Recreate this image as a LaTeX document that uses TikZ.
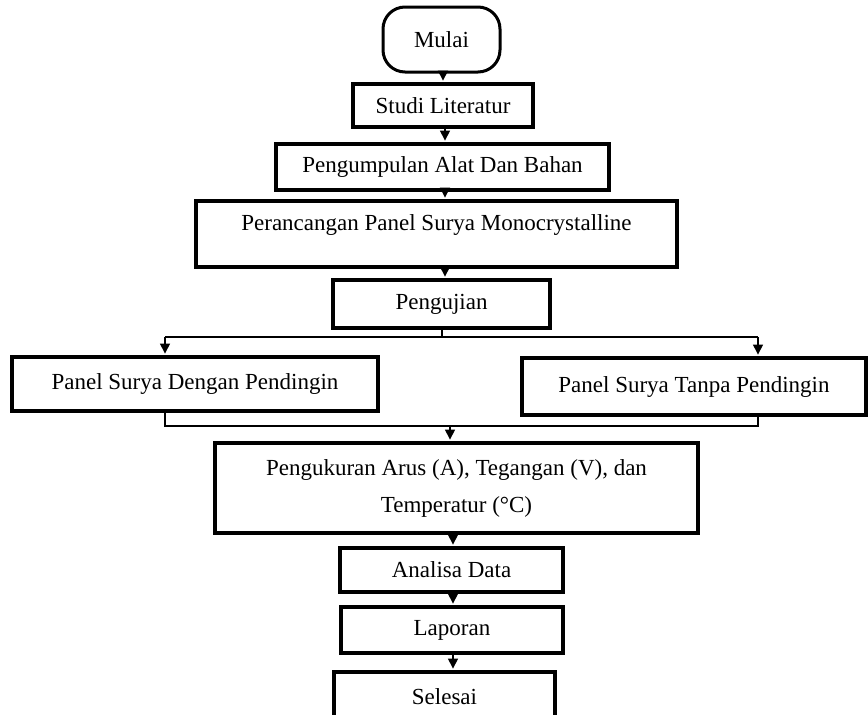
\documentclass[tikz,border=0pt]{standalone}
\usepackage{fontspec}
\setmainfont{Liberation Serif}
\usetikzlibrary{arrows.meta}
\begin{document}
\begin{tikzpicture}[x=1pt,y=-1pt,
  box/.style={draw, line width=3.6pt, inner sep=0pt, font=\fontsize{23}{37}\selectfont, align=center},
  lbl/.style={inner sep=0pt, font=\fontsize{23}{37}\selectfont, align=center},
  conn/.style={line width=1.1pt},
  arr/.style={conn, -{Triangle[width=10pt,length=10pt]}, shorten >=1.6pt}]
\clip (0,0) rectangle (868,715);
\fill[white] (0,0) rectangle (868,715);
% nodes
\node[box, line width=3pt, rounded corners=22pt, minimum width=117pt, minimum height=65pt] (mulai) at (441.5,39.5) {Mulai};
\node[box, minimum width=180pt, minimum height=43pt] (studi) at (443,105.5) {Studi Literatur};
\node[box, minimum width=333pt, minimum height=46pt] (kumpul) at (442.5,167) {Pengumpulan Alat Dan Bahan};
\node[box, minimum width=481pt, minimum height=66pt] (rancang) at (436.5,234) {};
\node[lbl] (rancangt) at (436.5,225) {Perancangan Panel Surya Monocrystalline};
\node[box, minimum width=217pt, minimum height=48pt] (uji) at (441.5,304) {Pengujian};
\node[box, minimum width=366pt, minimum height=54pt] (pl) at (195,384) {Panel Surya Dengan Pendingin};
\node[box, minimum width=344pt, minimum height=57pt] (pr) at (694,386.5) {Panel Surya Tanpa Pendingin};
\node[box, minimum width=483pt, minimum height=90pt] (ukur) at (456.5,488) {Pengukuran Arus (A), Tegangan (V), dan\\Temperatur (°C)};
\node[box, minimum width=223pt, minimum height=44pt] (analisa) at (451.5,570) {Analisa Data};
\node[box, minimum width=222pt, minimum height=46pt] (lapor) at (452,630) {Laporan};
\node[box, minimum width=221pt, minimum height=50pt] (selesai) at (444.5,697) {Selesai};
% coordinates
\coordinate (bl) at (165,337);
\coordinate (br) at (758,337);
\coordinate (ml) at (165,426);
\coordinate (mr) at (758,426);
\coordinate (mm) at (450,426);
% connectors
\draw[arr] (443,72) coordinate (m1) -- (m1 |- studi.north);
\draw[arr] (445,127) coordinate (s1) -- (s1 |- kumpul.north);
\draw[arr] (445,190) coordinate (k1) -- (k1 |- rancang.north);
\draw[arr] (445,267) coordinate (r1) -- (r1 |- uji.north);
\draw[conn] (442,328) coordinate (u1) -- (u1 |- bl);
\draw[conn] (bl) -- (br);
\draw[arr] (bl) -- (bl |- pl.north);
\draw[arr] (br) -- (br |- pr.north);
\draw[conn] (pl.south -| ml) -- (ml) -- (mr) -- (pr.south -| mr);
\draw[arr] (mm) -- (mm |- ukur.north);
\draw[arr] (453,533) coordinate (a1) -- (a1 |- analisa.north);
\draw[arr] (453,592) coordinate (a2) -- (a2 |- lapor.north);
\draw[arr] (453,653) coordinate (a3) -- (a3 |- selesai.north);
\end{tikzpicture}
\end{document}
